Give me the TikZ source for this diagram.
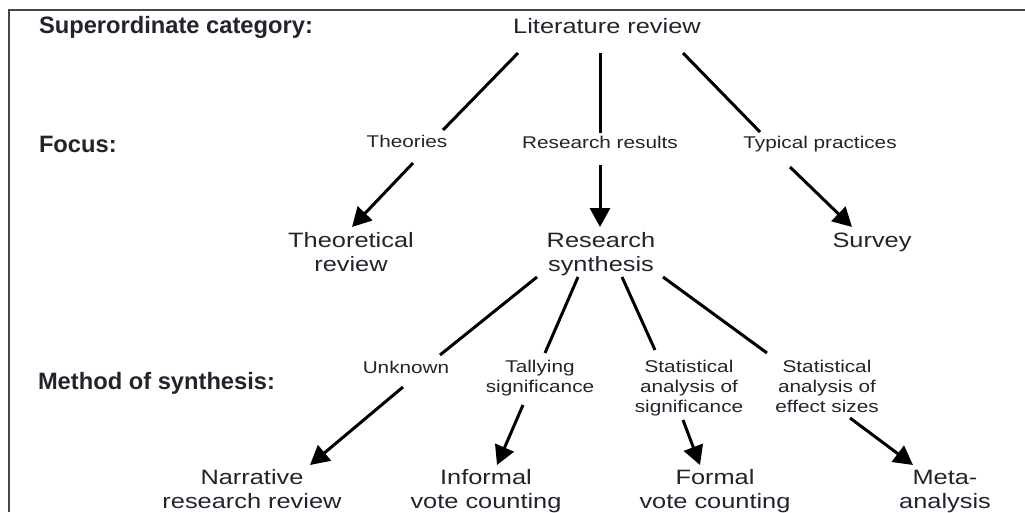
\documentclass[tikz,border=0pt]{standalone}
\usepackage{fontspec}
\setmainfont{Liberation Sans}
\newfontfamily\widesans{Liberation Sans}[FakeStretch=1.22]
\usetikzlibrary{arrows.meta,calc}
\definecolor{ink}{RGB}{35,35,45}
\definecolor{rulegray}{RGB}{70,70,70}
\begin{document}
\begin{tikzpicture}[x=1pt,y=-1pt,
  every node/.style={inner sep=0pt, outer sep=0pt, text=ink},
  heading/.style={anchor=base west, font=\fontsize{23.7}{27}\selectfont\bfseries},
  term/.style={anchor=base, align=center, font=\widesans\fontsize{20.8}{24}\selectfont},
  cue/.style={anchor=base, align=center, font=\widesans\fontsize{17}{20}\selectfont},
  link/.style={draw=black, line width=3pt},
  pointer/.style={link, -{Triangle[length=19pt,width=20pt]}}]

\useasboundingbox (0,0) rectangle (1025,512);

% frame
\draw[rulegray, line width=2pt] (1025,9.5) -- (9,9.5) -- (9,512);

% row headings
\node[heading] (hsup) at (39,33) {Superordinate category:};
\node[heading] (hfoc) at (39,152) {Focus:};
\node[heading] (hmet) at (38,389) {Method of synthesis:};

% top level
\node[term] (lit) at (607,33) {Literature review};

% focus cues
\node[cue] (theo) at (407,147) {Theories};
\node[cue] (resres) at (600,148) {Research results};
\node[cue] (typ) at (820,148) {Typical practices};

% review types (multi-line nodes sit on their last baseline)
\node[term] (threv) at (351,271) {Theoretical\\review};
\node[term] (synth) at (601,271) {Research\\synthesis};
\node[term] (survey) at (872,247) {Survey};

% synthesis methods
\node[cue] (unk) at (406,373) {Unknown};
\node[cue] (tally) at (540,392) {Tallying\\significance};
\node[cue] (sig) at (689,412) {Statistical\\analysis of\\significance};
\node[cue] (eff) at (827,412) {Statistical\\analysis of\\effect sizes};

% outcomes
\node[term] (narr) at (252,508) {Narrative\\research review};
\node[term] (inf) at (486,508) {Informal\\vote counting};
\node[term] (form) at (715,508) {Formal\\vote counting};
\node[term] (meta) at (945,508) {Meta-\\analysis};

% literature review -> focus
\draw[link] ($(lit.base)+(-89,20)$) -- ($(theo.base)+(36,-17)$);
\draw[link] ($(lit.base)+(-7,20)$) -- ($(resres.base)+(0,-15)$);
\draw[link] ($(lit.base)+(76,20)$) -- ($(typ.base)+(-60,-16)$);
\draw[pointer] ($(theo.base)+(6,16)$) -- ($(threv.base)+(1,-44)$);
\draw[pointer] ($(resres.base)+(0,17)$) -- ($(synth.base)+(-1,-44)$);
\draw[pointer] ($(typ.base)+(-30,19)$) -- ($(survey.base)+(-20,-20)$);

% research synthesis -> methods
\draw[link] ($(synth.base)+(-64,6)$) -- ($(unk.base)+(34,-18)$);
\draw[link] ($(synth.base)+(-23,6)$) -- ($(tally.base)+(5,-39)$);
\draw[link] ($(synth.base)+(21,6)$) -- ($(sig.base)+(-34,-62)$);
\draw[link] ($(synth.base)+(62,6)$) -- ($(eff.base)+(-60,-59)$);
\draw[pointer] ($(unk.base)+(-3,14)$) -- ($(narr.base)+(58,-43)$);
\draw[pointer] ($(tally.base)+(-17,13)$) -- ($(inf.base)+(11,-43)$);
\draw[pointer] ($(sig.base)+(-6,8)$) -- ($(form.base)+(-15,-43)$);
\draw[pointer] ($(eff.base)+(23,6)$) -- ($(meta.base)+(-32,-43)$);
\end{tikzpicture}
\end{document}
